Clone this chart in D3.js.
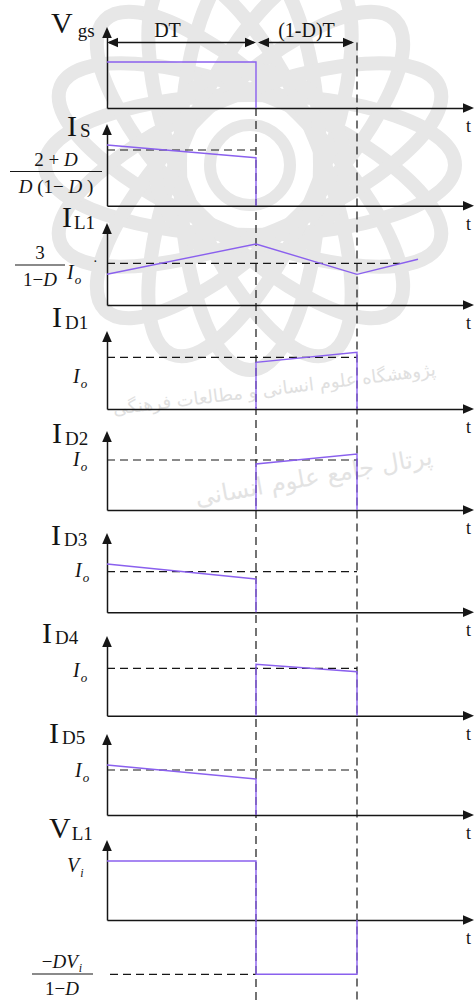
<!DOCTYPE html>
<html>
<head>
<meta charset="utf-8">
<script src="https://cdn.jsdelivr.net/npm/d3@7"></script>
<style>
  html, body { margin: 0; padding: 0; background: #ffffff; }
  svg { display: block; }
  text { font-family: "Liberation Serif", "Times New Roman", "DejaVu Serif", serif; fill: #141414; }
</style>
</head>
<body>
<svg id="chart" width="474" height="1001"></svg>
<script>
// ---- Data -------------------------------------------------------------
// Duty ratio: the switch turns off at t = D·T; the period ends at t = T.
const D = 0.596;
const switchTimes = [D, 1];
const intervalLabels = ["DT", "(1-D)T"];

// Waveforms as [t/T, value normalised to each trace's reference level]
const vgsWave = [[0, 1], [D, 1], [D, 0]];
const isWave  = [[0, 1.09], [D, 0.862], [D, 0]];
const il1Wave = [[0, 0.736], [D, 1.463], [1, 0.736], [1.244, 1.096]];
const id1Wave = [[D, 0], [D, 0.903], [1, 1.097], [1, 0]];
const id2Wave = [[D, 0], [D, 0.92], [1, 1.12], [1, 0]];
const id3Wave = [[0, 1.19], [D, 0.82], [D, 0]];
const id4Wave = [[D, 0], [D, 1.084], [1, 0.928], [1, 0]];
const id5Wave = [[0, 1.11], [D, 0.8], [D, 0]];
const vl1Wave = [[0, 1], [D, 1], [D, -0.92], [1, -0.92], [1, 0]];

// Trace names: [main symbol, subscript]
const traceNames = [["V", "gs"], ["I", "S"], ["I", "L1"], ["I", "D1"], ["I", "D2"],
                    ["I", "D3"], ["I", "D4"], ["I", "D5"], ["V", "L1"]];
// Dashed reference levels: [t start, t end, value]
const refLevels = [null, [0, D, 1], [0, 1.172, 1], [0, 1, 1], [0, 1, 1],
                   [0, 1, 1], [0, 1, 1], [0, 1, 1], [0.012, D, -0.92]];
const waves = [vgsWave, isWave, il1Wave, id1Wave, id2Wave, id3Wave, id4Wave, id5Wave, vl1Wave];
const timeAxisEnd = 1.464;

// ---- Layout -----------------------------------------------------------
// base: time axis, ref: reference level, top: tip of the vertical arrow,
// (nx, ny): trace name anchor, sdx/sdy: subscript offset
const panelLayout = [
  { base: 108,   ref: 62,    top: 27,  nx: 51, ny: 33,  sdx: 5, sdy: 4 },
  { base: 205.7, ref: 150,   top: 124, nx: 67, ny: 136, sdx: 3, sdy: 1 },
  { base: 305,   ref: 263.3, top: 223, nx: 62, ny: 227, sdx: 2, sdy: 2 },
  { base: 409,   ref: 357.3, top: 331, nx: 52, ny: 327, sdx: 3, sdy: 2 },
  { base: 510,   ref: 460,   top: 431, nx: 52, ny: 443, sdx: 3, sdy: 2 },
  { base: 612.3, ref: 571.7, top: 533, nx: 51, ny: 545, sdx: 3, sdy: 1 },
  { base: 715.7, ref: 668.3, top: 636, nx: 42, ny: 643, sdx: 3, sdy: 1 },
  { base: 815,   ref: 770,   top: 734, nx: 49, ny: 743, sdx: 3, sdy: 1 },
  { base: 920,   ref: 861,   top: 840, nx: 49, ny: 838, sdx: 1, sdy: 2 }
];

const svg = d3.select("#chart");
const ink = "#161616";
const trace = "#8a60ee";

const x = d3.scaleLinear().domain([0, 1]).range([107, 357]);
const xAxisScale = d3.scaleLinear().domain([0, timeAxisEnd]).range([107, 463]);

const gWater = svg.append("g");
const gGrid = svg.append("g");
const gAxes = svg.append("g");
const gWave = svg.append("g");
const gText = svg.append("g");

// faint rosette watermark in the background
const wm = gWater.append("g").attr("fill", "none").attr("stroke", "#e7e7e7")
  .attr("transform", "translate(250,165)");
d3.range(8).forEach(k => {
  wm.append("ellipse").attr("rx", 205).attr("ry", 70).attr("stroke-width", 14)
    .attr("transform", `rotate(${k * 22.5})`);
});
wm.append("circle").attr("r", 95).attr("stroke-width", 14);
wm.append("circle").attr("r", 40).attr("stroke-width", 12);
gWater.append("text").attr("x", 275).attr("y", 395).attr("text-anchor", "middle")
  .attr("transform", "rotate(-7 275 395)")
  .style("font-family", "'DejaVu Sans', sans-serif").style("font-size", "18px")
  .style("fill", "#e0e0e0").attr("direction", "rtl")
  .text("پژوهشگاه علوم انسانی و مطالعات فرهنگی");
gWater.append("text").attr("x", 315).attr("y", 485).attr("text-anchor", "middle")
  .attr("transform", "rotate(-10 315 485)")
  .style("font-family", "'DejaVu Sans', sans-serif").style("font-size", "24px")
  .style("fill", "#e3e3e3").attr("direction", "rtl")
  .text("پرتال جامع علوم انسانی");

// vertical dashed switching markers
const lastBase = 1001;
gGrid.append("line").attr("x1", x(switchTimes[0])).attr("x2", x(switchTimes[0]))
  .attr("y1", panelLayout[0].base).attr("y2", lastBase);
gGrid.append("line").attr("x1", x(switchTimes[1])).attr("x2", x(switchTimes[1]))
  .attr("y1", 42.5).attr("y2", lastBase);
gGrid.selectAll("line").attr("stroke", ink).attr("stroke-width", 1.2).attr("stroke-dasharray", "8,5");

function arrowHead(g, tipX, tipY, dir) {
  const L = 11, W = 4.8;
  let pts;
  if (dir === "up") pts = [[tipX, tipY], [tipX - W, tipY + L], [tipX + W, tipY + L]];
  if (dir === "right") pts = [[tipX, tipY], [tipX - L, tipY - W], [tipX - L, tipY + W]];
  if (dir === "left") pts = [[tipX, tipY], [tipX + L, tipY - W], [tipX + L, tipY + W]];
  g.append("path").attr("d", "M" + pts.map(p => p.join(",")).join("L") + "Z").attr("fill", ink);
}

// interval arrows DT and (1-D)T
const yArrow = 42.5;
const gInt = gAxes.append("g");
[[0, D], [D, 1]].forEach(([a, b], i) => {
  const xa = x(a) + (i === 1 ? 2 : 0), xb = x(b) - (i === 1 ? 3 : 0);
  gInt.append("line").attr("x1", xa + 2).attr("x2", xb - 2).attr("y1", yArrow).attr("y2", yArrow)
    .attr("stroke", ink).attr("stroke-width", 1.4);
  arrowHead(gInt, xa, yArrow, "left");
  arrowHead(gInt, xb, yArrow, "right");
  gText.append("text").attr("x", (x(a) + x(b)) / 2 + (i === 0 ? -14 : 0)).attr("y", 37)
    .attr("text-anchor", "middle").style("font-size", "20px").text(intervalLabels[i]);
});

const line = d3.line();

waves.forEach((wave, i) => {
  const L = panelLayout[i];
  const y = d3.scaleLinear().domain([0, 1]).range([L.base, L.ref]);

  // time axis
  const ax = gAxes.append("g").attr("transform", `translate(0,${L.base})`)
    .call(d3.axisBottom(xAxisScale).ticks(0).tickSizeOuter(0));
  ax.select(".domain").attr("stroke", ink).attr("stroke-width", 1.5);
  arrowHead(gAxes, 474, L.base, "right");
  gText.append("text").attr("x", 466).attr("y", L.base + 24).style("font-size", "18px").text("t");

  // vertical axis
  const yAxisScale = d3.scaleLinear().domain([0, 1]).range([L.base, L.top + 6]);
  const ay = gAxes.append("g").attr("transform", `translate(${x(0)},0)`)
    .call(d3.axisLeft(yAxisScale).ticks(0).tickSizeOuter(0));
  ay.select(".domain").attr("stroke", ink).attr("stroke-width", 1.5);
  arrowHead(gAxes, x(0), L.top, "up");

  // dashed reference level
  const r = refLevels[i];
  if (r) {
    gGrid.append("line").attr("x1", x(r[0])).attr("x2", x(r[1]))
      .attr("y1", y(r[2])).attr("y2", y(r[2]))
      .attr("stroke", ink).attr("stroke-width", 1.2).attr("stroke-dasharray", "8,5");
  }

  // waveform
  gWave.append("path").attr("d", line(wave.map(d => [x(d[0]), y(d[1])])))
    .attr("fill", "none").attr("stroke", trace).attr("stroke-width", 1.4);

  // trace name with subscript
  const t = gText.append("text").attr("x", L.nx).attr("y", L.ny);
  t.append("tspan").style("font-size", "30px").text(traceNames[i][0]);
  t.append("tspan").attr("dx", L.sdx).attr("dy", L.sdy).style("font-size", "19px").text(traceNames[i][1]);
});

// ---- level annotations --------------------------------------------------
function symbolSub(xp, yp, main, sub, mainSize, subSize, subDy) {
  const t = gText.append("text").attr("x", xp).attr("y", yp).style("font-style", "italic");
  t.append("tspan").style("font-size", mainSize + "px").text(main);
  t.append("tspan").attr("dx", 1).attr("dy", subDy).style("font-size", subSize + "px").text(sub);
}
function fraction(cx, barY, x0, x1, num, den) {
  gText.append("line").attr("x1", x0).attr("x2", x1).attr("y1", barY).attr("y2", barY)
    .attr("stroke", ink).attr("stroke-width", 1.2);
  const n = gText.append("text").attr("x", cx).attr("y", barY - 6).attr("text-anchor", "middle")
    .style("font-size", "19px");
  num.forEach(p => {
    const s = n.append("tspan").style("font-style", p[1] ? "italic" : "normal").text(p[0]);
    if (p[2]) s.style("font-size", p[2] + "px").attr("dy", p[3]).attr("dx", 1);
  });
  const d = gText.append("text").attr("x", cx).attr("y", barY + 21).attr("text-anchor", "middle")
    .style("font-size", "19px");
  den.forEach(p => d.append("tspan").style("font-style", p[1] ? "italic" : "normal").text(p[0]));
}

// I_S level: (2+D)/(D(1-D))
fraction(56, 171.5, 10, 102, [["2 + ", 0], ["D", 1]], [["D", 1], [" (1\u2212 ", 0], ["D", 1], [" )", 0]]);
// I_L1 level: 3/(1-D) Io
fraction(40, 265, 15, 65, [["3", 0]], [["1\u2212", 0], ["D", 1]]);
symbolSub(67, 279, "I", "o", 20, 13, 5);
gText.append("text").attr("x", 93).attr("y", 266).style("font-size", "14px").text("\u00b7");
// diode current levels
symbolSub(73, 383, "I", "o", 20, 13, 5);
symbolSub(73, 466, "I", "o", 20, 13, 5);
symbolSub(75, 577, "I", "o", 20, 13, 5);
symbolSub(73, 677, "I", "o", 20, 13, 5);
symbolSub(75, 777, "I", "o", 20, 13, 5);
// V_L1 levels: Vi and -DVi/(1-D)
symbolSub(67, 872, "V", "i", 20, 12, 5);
fraction(62, 974, 32, 93, [["\u2212", 0], ["DV", 1], ["i", 1, 12, 4]], [["1\u2212", 0], ["D", 1]]);
</script>
</body>
</html>
